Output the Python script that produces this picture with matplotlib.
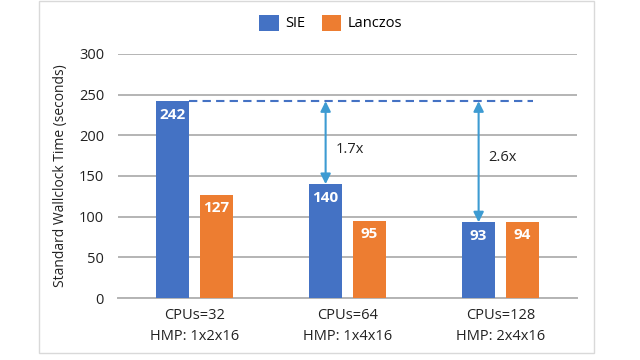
import numpy as np
import matplotlib.pyplot as plt
from matplotlib.patches import Rectangle

plt.rcParams['font.family'] = ['Open Sans', 'DejaVu Sans']

configs = ['CPUs=32\nHMP: 1x2x16', 'CPUs=64\nHMP: 1x4x16', 'CPUs=128\nHMP: 2x4x16']
sie = [242, 140, 93]
lanczos = [127, 95, 94]
speedups = ['1.7x', '2.6x']
speedup_y = [182, 173]

blue = '#4472C4'
orange = '#ED7D31'
arrow_c = '#3d9bd2'

fig = plt.figure(figsize=(6.4, 3.6), dpi=100)
ax = fig.add_axes([118 / 640, 1 - 298 / 360, (577 - 118) / 640, (298 - 54) / 360])

# frame around the chart
fig.patches.append(Rectangle((39 / 640, 1 - 353 / 360), (594 - 39) / 640, 353 / 360 - 0.002,
                             transform=fig.transFigure, fill=False, edgecolor='#d9d9d9', lw=1))

index = np.arange(len(configs))
bar_width = 0.22
off = 0.143

b1 = ax.bar(index - off, sie, bar_width, color=blue, label='SIE', zorder=3)
b2 = ax.bar(index + off, lanczos, bar_width, color=orange, label='Lanczos', zorder=3)

for bars in (b1, b2):
    for r in bars:
        ax.text(r.get_x() + r.get_width() / 2, r.get_height() - 8, '%d' % r.get_height(),
                ha='center', va='top', color='white', fontsize=11, fontweight='bold', zorder=4)

# dashed reference line at SIE 32 CPUs
ax.plot([0 - off + bar_width / 2, 2.21], [sie[0], sie[0]], color=blue, lw=1.5,
        dashes=(4, 2.5), zorder=4)

for i in (1, 2):
    ax.annotate('', xy=(i - off, sie[i]), xytext=(i - off, sie[0]),
                arrowprops=dict(arrowstyle='<|-|>', color=arrow_c, lw=1.5,
                                mutation_scale=15, shrinkA=0, shrinkB=0), zorder=5)
    ax.text(i - off + 0.065, speedup_y[i - 1], speedups[i - 1], ha='left', va='center',
            fontsize=10.5, color='#222222')

ax.set_xlim(-0.5, 2.5)
ax.set_ylim(0, 300)
ax.set_yticks(np.arange(0, 301, 50))
ax.set_xticks(index)
ax.set_xticklabels(configs, fontsize=10.5, linespacing=1.55, color='#222222')
ax.tick_params(axis='y', labelsize=10.5, labelcolor='#222222', length=0, pad=10)
ax.tick_params(axis='x', length=0, pad=7)
ax.yaxis.grid(True, color='#b4b4b4', lw=1.4, zorder=0)
ax.set_axisbelow(True)
for s in ['top', 'right', 'left']:
    ax.spines[s].set_visible(False)
ax.spines['bottom'].set_color('#b4b4b4')
ax.spines['bottom'].set_linewidth(1.4)

ax.set_ylabel('Standard Wallclock Time (seconds)', fontsize=10, color='#222222', labelpad=8)

fig.legend(handles=[b1, b2], loc='center', bbox_to_anchor=(0.517, 0.936), ncol=2,
           frameon=False, fontsize=10.5, handlelength=1.35, handleheight=1.3,
           handletextpad=0.45, columnspacing=1.1)

plt.savefig('out.png', dpi=100)
